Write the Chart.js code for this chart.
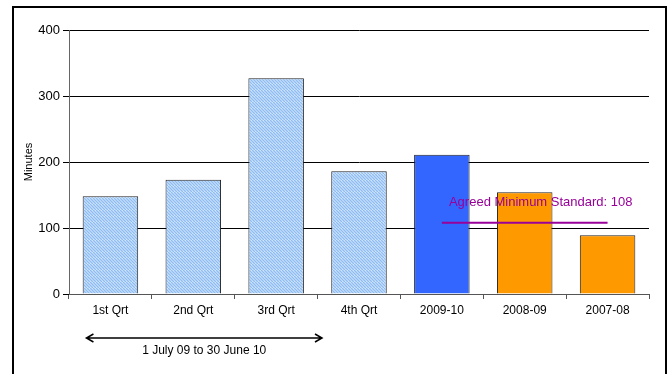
<!DOCTYPE html>
<html>
<head>
<meta charset="utf-8">
<script src="https://cdn.jsdelivr.net/npm/chart.js@4/dist/chart.umd.min.js"></script>
<style>
  html, body { margin: 0; padding: 0; background: #fff; }
  #wrap { position: relative; width: 671px; height: 374px; overflow: hidden; }
  #frame { position: absolute; left: 12px; top: 6px; width: 651px; height: 400px; border: 2px solid #000; }
  canvas { position: absolute; left: 0; top: 0; }
</style>
</head>
<body>
<div id="wrap">
  <div id="frame"></div>
  <canvas id="chart" width="671" height="374"></canvas>
</div>
<script>
/* ---------- Data ---------- */
const CATEGORIES = ["1st Qrt", "2nd Qrt", "3rd Qrt", "4th Qrt", "2009-10", "2008-09", "2007-08"];
const MINUTES = [148, 173, 327, 186, 211, 154, 89];
const STANDARD = [null, null, null, null, 108, 108, 108];
const STANDARD_LABEL = "Agreed Minimum Standard: 108";
const PERIOD_LABEL = "1 July 09 to 30 June 10";
const Y_TICKS = [0, 100, 200, 300, 400];

const FONT = "Arial, 'Liberation Sans', sans-serif";

/* ---------- Hatch pattern for the quarters ---------- */
function makeHatch() {
  const c = document.createElement("canvas");
  c.width = 6; c.height = 6;
  const g = c.getContext("2d");
  g.fillStyle = "#e4f0ff";
  g.fillRect(0, 0, 6, 6);
  g.strokeStyle = "#8dbcf2";
  g.lineWidth = 1.5;
  for (let k = -6; k <= 12; k += 3) {
    g.beginPath();
    g.moveTo(k, 0);
    g.lineTo(k + 6, 6);
    g.stroke();
  }
  return g.createPattern(c, "repeat");
}

const ctx = document.getElementById("chart").getContext("2d");
const hatch = makeHatch();
const barColors = MINUTES.map((v, i) => i < 4 ? hatch : (i === 4 ? "#3366ff" : "#ff9900"));

/* ---------- Extra drawing: standard label, period arrow ---------- */
const extras = {
  id: "extras",
  afterDraw(chart) {
    const c = chart.ctx;
    const x = chart.scales.x;
    const y = chart.scales.y;
    c.save();
    // standard label
    c.fillStyle = "#990099";
    c.font = "13px " + FONT;
    c.textAlign = "center";
    c.textBaseline = "middle";
    c.fillText(STANDARD_LABEL, x.getPixelForValue(5) + 16, y.getPixelForValue(138));

    // period arrow
    const x0 = x.getPixelForValue(0) - 24;
    const x1 = x.getPixelForValue(3) - 37;
    const ay = 338;
    c.strokeStyle = "#000";
    c.lineWidth = 1.5;
    c.beginPath();
    c.moveTo(x0, ay); c.lineTo(x1, ay);
    c.moveTo(x0 + 7, ay - 4); c.lineTo(x0, ay); c.lineTo(x0 + 7, ay + 4);
    c.moveTo(x1 - 7, ay - 4); c.lineTo(x1, ay); c.lineTo(x1 - 7, ay + 4);
    c.stroke();
    c.fillStyle = "#000";
    c.font = "12px " + FONT;
    c.fillText(PERIOD_LABEL, (x0 + x1) / 2, 351);
    c.restore();
  }
};

new Chart(ctx, {
  type: "bar",
  data: {
    labels: CATEGORIES,
    datasets: [
      {
        type: "line",
        label: "Standard",
        data: STANDARD,
        borderColor: "#990099",
        borderWidth: 2,
        pointRadius: 0,
        order: 0
      },
      {
        label: "Minutes",
        data: MINUTES,
        backgroundColor: barColors,
        borderColor: "#222",
        borderWidth: 1,
        categoryPercentage: 1,
        barPercentage: 0.67,
        order: 1
      }
    ]
  },
  options: {
    responsive: false,
    animation: false,
    layout: { padding: { left: 22, top: 30, right: 22, bottom: 50 } },
    plugins: {
      legend: { display: false },
      tooltip: { enabled: false }
    },
    scales: {
      x: {
        offset: true,
        grid: {
          offset: true,
          drawOnChartArea: false,
          tickLength: 5,
          color: "#555"
        },
        border: { color: "#555", width: 1 },
        ticks: {
          color: "#000",
          font: { family: FONT, size: 12 },
          padding: 4,
          maxRotation: 0
        },
        afterFit(s) { s.height = 30; }
      },
      y: {
        min: 0,
        max: 400,
        afterBuildTicks(s) { s.ticks = Y_TICKS.map(v => ({ value: v })); },
        grid: {
          color: "#000",
          lineWidth: 1,
          tickLength: 6
        },
        border: { color: "#666", width: 1 },
        ticks: {
          color: "#000",
          font: { family: FONT, size: 13 },
          padding: 3
        },
        title: {
          display: true,
          text: "Minutes",
          color: "#000",
          font: { family: FONT, size: 11 },
          padding: 0
        },
        afterFit(s) { s.width = 47; }
      }
    }
  },
  plugins: [extras]
});
</script>
</body>
</html>
